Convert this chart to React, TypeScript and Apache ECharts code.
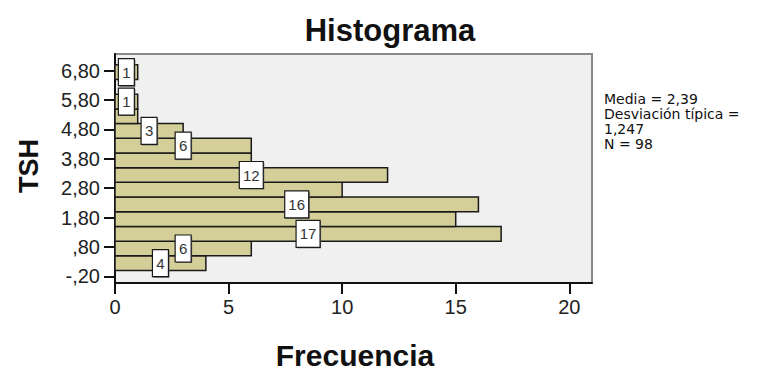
import React, { useEffect, useRef } from "react";
import * as echarts from "echarts";

// Histogram bins of TSH (bin start, width 0.5) and frequencies
const binStarts = [0, 0.5, 1.0, 1.5, 2.0, 2.5, 3.0, 3.5, 4.0, 4.5, 5.0, 5.5, 6.0, 6.5];
const counts = [4, 6, 17, 15, 16, 10, 12, 6, 6, 3, 1, 1, 0, 1];
const labeled = [true, true, true, false, true, false, true, false, true, true, false, true, false, true];
const binWidth = 0.5;

const yTickValues = [-0.2, 0.8, 1.8, 2.8, 3.8, 4.8, 5.8, 6.8];
const yTickLabels = ["-,20", ",80", "1,80", "2,80", "3,80", "4,80", "5,80", "6,80"];
const xTickValues = [0, 5, 10, 15, 20];
const xTickLabels = ["0", "5", "10", "15", "20"];

const titleText = "Histograma";
const yName = "TSH";
const xName = "Frecuencia";
const statsLines = ["Media = 2,39", "Desviación típica =", "1,247", "N = 98"];

const FONT = "'Liberation Sans', Arial, sans-serif";

export default function App() {
  const ref = useRef<HTMLDivElement>(null);
  useEffect(() => {
    if (!ref.current) return;
    const chart = echarts.init(ref.current, undefined, { renderer: "svg" });
    const barData = binStarts.map((s, i) => [s, s + binWidth, counts[i]]);
    const labelData = binStarts
      .map((s, i) => [counts[i] / 2, s + binWidth / 2, counts[i]])
      .filter((_, i) => labeled[i]);

    const findLabel = (v: number, vals: number[], labs: string[]) => {
      const i = vals.findIndex((t) => Math.abs(t - v) < 1e-6);
      return i >= 0 ? labs[i] : "";
    };

    chart.setOption({
      animation: false,
      backgroundColor: "#ffffff",
      grid: {
        left: 115,
        right: 174,
        top: 54,
        bottom: 87,
        show: true,
        backgroundColor: "#f0f0f0",
        borderColor: "#8a8a8a",
        borderWidth: 2,
      },
      xAxis: {
        type: "value",
        min: 0,
        max: 21,
        splitLine: { show: false },
        axisLine: { show: true, onZero: false, lineStyle: { color: "#111", width: 2 } },
        axisTick: {
          show: true,
          length: 11,
          customValues: xTickValues,
          lineStyle: { color: "#111", width: 2 },
        },
        axisLabel: {
          customValues: xTickValues,
          margin: 14,
          fontSize: 20,
          fontFamily: FONT,
          color: "#222",
          formatter: (v: number) => findLabel(v, xTickValues, xTickLabels),
        },
      },
      yAxis: {
        type: "value",
        min: -0.424,
        max: 7.367,
        splitLine: { show: false },
        axisLine: { show: true, onZero: false, lineStyle: { color: "#111", width: 2 } },
        axisTick: {
          show: true,
          length: 11,
          customValues: yTickValues,
          lineStyle: { color: "#111", width: 2 },
        },
        axisLabel: {
          customValues: yTickValues,
          margin: 15,
          fontSize: 20,
          fontFamily: FONT,
          color: "#222",
          formatter: (v: number) => findLabel(v, yTickValues, yTickLabels),
        },
      },
      series: [
        {
          type: "custom",
          z: 2,
          encode: { x: 2, y: [0, 1] },
          data: barData,
          renderItem: (params: any, api: any) => {
            const lo = api.value(0);
            const hi = api.value(1);
            const c = api.value(2);
            if (!c) return { type: "group", children: [] };
            const p0 = api.coord([0, lo]);
            const p1 = api.coord([c, hi]);
            return {
              type: "rect",
              shape: { x: p0[0], y: p1[1], width: p1[0] - p0[0], height: p0[1] - p1[1] },
              style: { fill: "#d4cf98", stroke: "#1a1a1a", lineWidth: 1.5 },
            };
          },
        },
        {
          type: "custom",
          z: 3,
          encode: { x: 0, y: 1 },
          data: labelData,
          renderItem: (params: any, api: any) => {
            const c = api.value(2);
            const p = api.coord([api.value(0), api.value(1)]);
            const txt = String(c);
            const w = txt.length > 1 ? 24 : 16;
            const h = 27;
            return {
              type: "group",
              children: [
                {
                  type: "rect",
                  shape: { x: p[0] - w / 2 + 1, y: p[1] - h / 2 + 1, width: w, height: h },
                  style: { fill: "#666" },
                },
                {
                  type: "rect",
                  shape: { x: p[0] - w / 2, y: p[1] - h / 2, width: w, height: h },
                  style: { fill: "#ffffff", stroke: "#1a1a1a", lineWidth: 1.2 },
                },
                {
                  type: "text",
                  x: p[0],
                  y: p[1],
                  style: {
                    text: txt,
                    fill: "#333",
                    fontSize: 15,
                    fontFamily: FONT,
                    align: "center",
                    verticalAlign: "middle",
                  },
                },
              ],
            };
          },
        },
      ],
      graphic: [
        {
          type: "text",
          x: 390,
          y: 30,
          style: {
            text: titleText,
            fontSize: 31,
            fontWeight: "bold",
            fontFamily: FONT,
            fill: "#111",
            align: "center",
            verticalAlign: "middle",
          },
        },
        {
          type: "text",
          x: 29,
          y: 166,
          rotation: Math.PI / 2,
          style: {
            text: yName,
            fontSize: 27,
            fontWeight: "bold",
            fontFamily: FONT,
            fill: "#111",
            align: "center",
            verticalAlign: "middle",
          },
        },
        {
          type: "text",
          x: 355,
          y: 355,
          style: {
            text: xName,
            fontSize: 30,
            fontWeight: "bold",
            fontFamily: FONT,
            fill: "#111",
            align: "center",
            verticalAlign: "middle",
          },
        },
        {
          type: "text",
          x: 604,
          y: 91,
          style: {
            text: statsLines.join("\n"),
            fontSize: 14,
            lineHeight: 15,
            fontFamily: "'DejaVu Sans', Verdana, sans-serif",
            fill: "#111",
            align: "left",
            verticalAlign: "top",
          },
        },
      ],
    });
    return () => chart.dispose();
  }, []);

  return (
    <div
      ref={ref}
      style={{ position: "fixed", left: 0, top: 0, width: 766, height: 370, background: "#fff" }}
    />
  );
}
